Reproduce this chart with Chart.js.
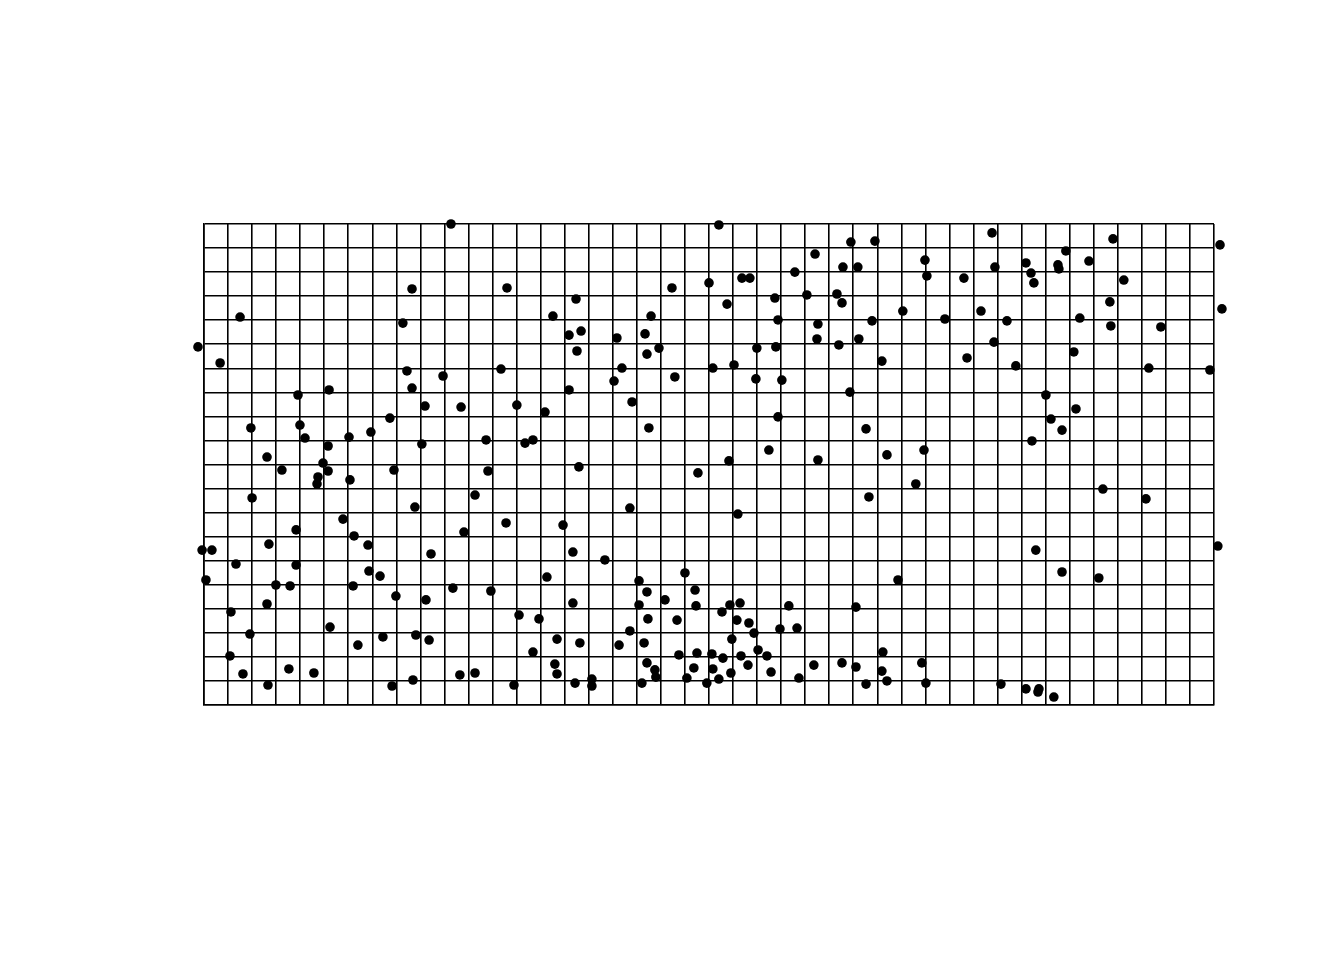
<!DOCTYPE html>
<html>
<head>
<meta charset="utf-8">
<script src="https://cdn.jsdelivr.net/npm/chart.js@4/dist/chart.umd.min.js"></script>
<style>
  html, body { margin: 0; padding: 0; background: #ffffff; }
  #wrap { width: 1344px; height: 960px; }
</style>
</head>
<body>
<div id="wrap"><canvas id="c" width="1344" height="960"></canvas></div>
<script>
// Grid: 42 columns x 20 rows (cell = 1 unit)
const gridCols = 42;
const gridRows = 20;

const xValues = [
  10.27, 21.41, 32.77, 37.80, 26.90, 27.90, 42.25, 35.84, 25.41, 29.98,
  34.18, 36.80, 32.89, 35.51, 35.55, 26.57, 27.19, 24.57, 34.39, 30.06,
  31.60, 22.37, 22.70, 38.25, 34.51, 21.00, 8.65, 12.60, 19.46, 15.47,
  23.74, 25.07, 26.32, 37.67, 21.75, 26.53, 42.33, 29.06, 32.31, 1.50,
  14.51, 18.59, 23.87, 30.81, 33.39, 36.42, 27.78, 8.27, 25.53, 37.71,
  39.79, 15.18, 15.68, 17.17, 18.34, 25.49, 27.23, 32.85, -0.25, 15.51,
  18.92, 18.42, 22.99, 23.78, 26.40, 36.17, 31.73, 28.19, 0.67, 12.35,
  21.16, 22.04, 17.38, 33.76, 39.29, 41.83, 8.44, 9.94, 17.05, 19.58,
  22.95, 24.03, 8.65, 15.18, 5.20, 26.86, 3.91, 35.01, 17.80, 9.19,
  10.69, 13.01, 36.26, 14.18, 23.87, 7.73, 35.22, 3.99, 1.95, 18.50,
  27.53, 35.68, 6.94, 6.03, 4.20, 11.73, 13.68, 13.35, 34.43, 5.16,
  9.06, 23.49, 29.94, 2.62, 28.40, 25.53, 21.83, 4.95, 15.59, 3.24,
  7.90, 11.81, 5.16, 20.54, 4.74, 6.07, 4.70, 29.60, 37.38, 11.27,
  2.00, 27.65, 39.17, 8.77, 17.71, 22.20, 5.78, 12.56, 14.93, 3.83,
  10.81, 6.24, 2.70, 6.82, 42.16, -0.08, 0.33, 15.34, 34.59, 9.44,
  16.67, 3.83, 1.33, 35.68, 6.86, 7.32, 14.26, 20.00, 37.21, 28.86,
  0.08, 18.09, 2.99, 3.58, 6.20, 10.35, 18.42, 11.93, 20.42, 7.98,
  9.23, 19.17, 2.62, 15.34, 20.46, 18.09, 21.87, 22.29, 24.32, 27.11,
  1.12, 21.54, 13.10, 13.93, 18.46, 19.67, 22.16, 22.66, 5.24, 24.66,
  23.95, 17.71, 1.91, 22.87, 7.44, 8.81, 14.68, 21.95, 9.36, 15.63,
  18.30, 6.40, 17.26, 23.04, 13.68, 20.50, 28.23, 19.75, 21.12, 22.33,
  23.41, 1.08, 21.58, 14.59, 18.42, 25.36, 26.53, 29.85, 3.53, 22.62,
  20.37, 27.11, 18.75, 23.58, 28.19, 21.16, 1.62, 4.57, 11.27, 10.64,
  14.68, 18.79, 21.91, 20.08, 21.41, 24.74, 8.69, 16.13, 28.40, 2.66,
  7.82, 12.89, 15.43, 16.13, 18.21, 20.91, 27.53, 30.02, 33.14, 34.18,
  34.68, 34.72, 35.34
];

const yValues = [
  20.00, 19.96, 19.63, 19.38, 19.25, 19.29, 19.13, 18.88, 18.75, 18.50,
  18.38, 18.46, 18.21, 18.30, 18.13, 18.21, 18.21, 18.00, 17.96, 17.84,
  17.75, 17.75, 17.75, 17.67, 17.55, 17.55, 17.30, 17.34, 17.34, 16.88,
  16.92, 17.05, 17.09, 16.76, 16.67, 16.72, 16.47, 16.38, 16.38, 16.13,
  16.17, 16.17, 16.01, 16.05, 15.97, 16.09, 15.97, 15.88, 15.84, 15.76,
  15.72, 15.38, 15.55, 15.26, 15.43, 15.22, 15.22, 15.09, 14.89, 14.72,
  14.84, 14.59, 14.84, 14.89, 14.97, 14.68, 14.43, 14.30, 14.22, 13.97,
  14.01, 14.14, 14.01, 14.10, 14.01, 13.93, 13.89, 13.68, 13.47, 13.64,
  13.56, 13.51, 13.18, 13.10, 13.10, 13.01, 12.89, 12.89, 12.60, 12.43,
  12.39, 12.47, 12.31, 12.18, 11.98, 11.93, 11.89, 11.64, 11.52, 11.52,
  11.48, 11.43, 11.35, 11.14, 11.10, 11.02, 11.02, 10.89, 10.98, 10.77,
  10.85, 10.60, 10.60, 10.31, 10.40, 10.19, 10.15, 10.06, 9.90, 9.77,
  9.77, 9.73, 9.73, 9.65, 9.48, 9.36, 9.19, 9.19, 8.98, 8.73,
  8.61, 8.65, 8.57, 8.23, 8.19, 7.94, 7.73, 7.57, 7.48, 7.28,
  7.19, 7.03, 6.69, 6.65, 6.61, 6.44, 6.44, 6.36, 6.44, 6.28,
  6.03, 5.82, 5.86, 5.53, 5.57, 5.36, 5.32, 5.49, 5.28, 5.20,
  5.20, 5.16, 4.99, 4.95, 4.95, 4.86, 4.70, 4.74, 4.78, 4.53,
  4.37, 4.37, 4.20, 4.24, 4.12, 4.16, 4.16, 4.24, 4.12, 4.07,
  3.87, 3.87, 3.74, 3.58, 3.58, 3.53, 3.53, 3.41, 3.24, 3.20,
  3.16, 3.08, 2.95, 2.99, 2.83, 2.91, 2.74, 2.74, 2.70, 2.58,
  2.58, 2.49, 2.49, 2.29, 2.20, 2.16, 2.20, 2.08, 2.12, 2.04,
  2.04, 2.04, 1.95, 1.70, 1.75, 1.66, 1.75, 1.75, 1.50, 1.66,
  1.54, 1.58, 1.46, 1.37, 1.41, 1.50, 1.29, 1.33, 1.33, 1.25,
  1.29, 1.16, 1.33, 1.12, 1.08, 1.12, 1.04, 1.08, 1.00, 0.83,
  0.79, 0.83, 0.91, 0.79, 0.91, 0.91, 0.87, 0.91, 0.87, 0.67,
  0.54, 0.67, 0.33
];

const points = xValues.map((x, i) => ({ x: x, y: yValues[i] }));

const gridStyle = {
  display: true,
  color: '#000000',
  lineWidth: 1.6,
  drawTicks: false,
  drawOnChartArea: true
};

new Chart(document.getElementById('c'), {
  type: 'scatter',
  data: {
    datasets: [{
      data: points,
      backgroundColor: '#000000',
      borderWidth: 0,
      pointRadius: 4.8,
      // larger hover radius widens the in-area margin so points just outside the grid are still drawn
      pointHoverRadius: 14,
      clip: false
    }]
  },
  options: {
    responsive: false,
    animation: false,
    devicePixelRatio: 1,
    events: [],
    layout: { padding: { left: 204, right: 130, top: 224, bottom: 255 } },
    plugins: { legend: { display: false }, tooltip: { enabled: false } },
    scales: {
      x: {
        type: 'linear',
        min: 0, max: gridCols,
        ticks: { display: false, stepSize: 1, autoSkip: false, maxTicksLimit: 100 },
        grid: gridStyle,
        border: { display: true, color: '#000000', width: 1.6 }
      },
      y: {
        type: 'linear',
        min: 0, max: gridRows,
        ticks: { display: false, stepSize: 1, autoSkip: false, maxTicksLimit: 100 },
        grid: gridStyle,
        border: { display: true, color: '#000000', width: 1.6 }
      }
    }
  }
});
</script>
</body>
</html>
